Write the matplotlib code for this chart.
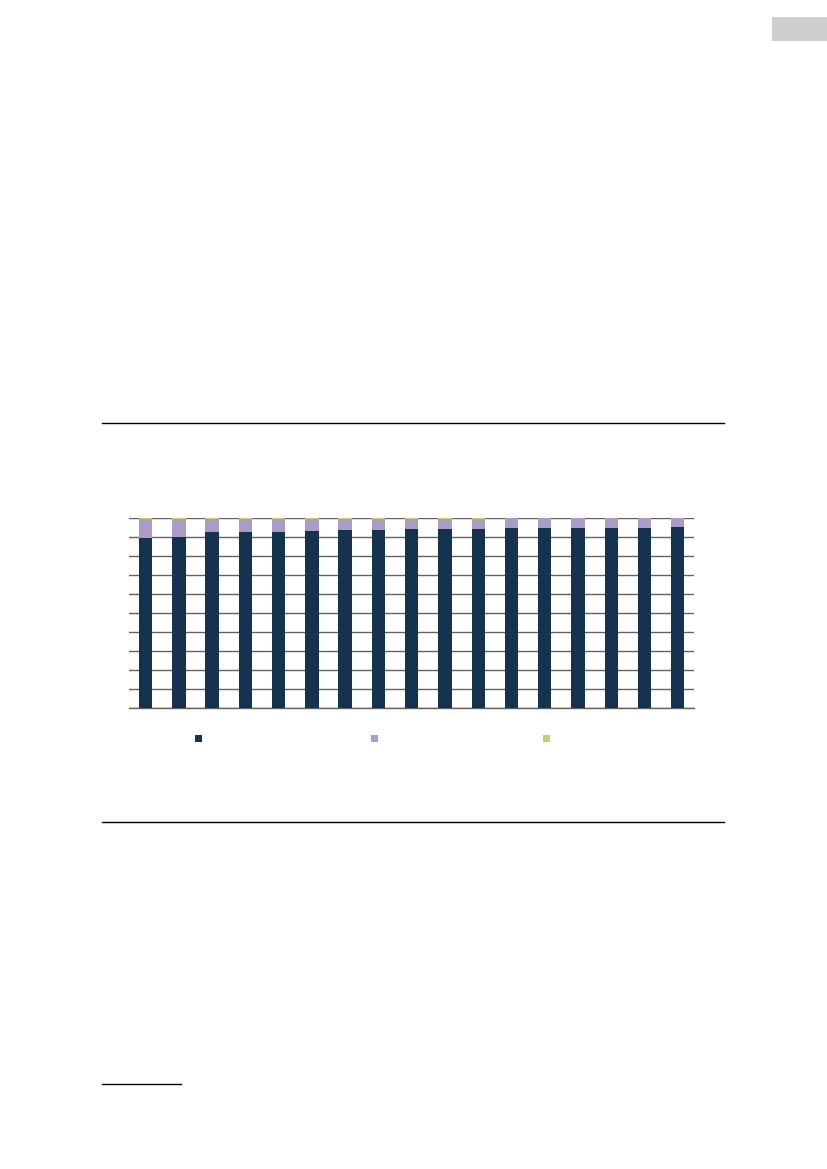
import numpy as np
import matplotlib
matplotlib.use('Agg')
import matplotlib.pyplot as plt
from matplotlib.patches import Rectangle
from matplotlib.lines import Line2D

W, H = 827, 1169

# 数据：三类占比 (%)，17 个年份/类别
categories = list(range(17))
share_main = [89.6, 90.2, 92.8, 92.8, 92.9, 93.3, 93.8, 93.8, 94.2,
              94.4, 94.4, 94.9, 94.9, 94.9, 95.0, 95.0, 95.4]
share_second = [9.8, 9.2, 6.7, 6.7, 6.6, 6.4, 5.9, 5.9, 5.5,
                5.4, 5.4, 5.0, 5.0, 5.0, 4.9, 4.9, 4.5]
share_other = [0.6, 0.6, 0.5, 0.5, 0.5, 0.3, 0.3, 0.3, 0.3,
               0.2, 0.2, 0.1, 0.1, 0.1, 0.1, 0.1, 0.1]

colors = ['#15334f', '#ab9bc7', '#c8cf6a']
grid_color = '#636363'

fig = plt.figure(figsize=(W / 100, H / 100), dpi=100)


def fx(px):
    return px / W


def fy(py):
    return 1 - py / H


# 页面元素：右上角灰色标签、水平分隔线、脚注线
fig.add_artist(Rectangle((fx(771.5), fy(41.3)), fx(827) - fx(771.5), fy(17.3) - fy(41.3),
                         transform=fig.transFigure, facecolor='#cfcfcf', edgecolor='none'))
for y, x0, x1 in [(423.3, 102, 723.5), (821.7, 102, 724), (1084.3, 102, 181)]:
    fig.add_artist(Line2D([fx(x0), fx(x1)], [fy(y), fy(y)], transform=fig.transFigure,
                          color='black', linewidth=1.0))

# 图表区域
ax = fig.add_axes([fx(129), fy(708.3), fx(694.3) - fx(129), fy(518.3) - fy(708.3)])
x = np.arange(len(categories))
bottom = np.zeros(len(categories))
for vals, c in zip([share_main, share_second, share_other], colors):
    ax.bar(x, vals, width=0.4, bottom=bottom, color=c, zorder=3)
    bottom += np.array(vals)

ax.set_xlim(-0.5, len(categories) - 0.5)
ax.set_ylim(0, 100)
ax.set_yticks(np.arange(0, 101, 10))
ax.yaxis.grid(True, color=grid_color, linewidth=1.0, zorder=1)
ax.set_axisbelow(True)
ax.tick_params(left=False, bottom=False, labelleft=False, labelbottom=False)
for s in ['top', 'right', 'left']:
    ax.spines[s].set_visible(False)
ax.spines['bottom'].set_color(grid_color)
ax.spines['bottom'].set_linewidth(1.0)

# 图例色块（无文字）
for cx, c in zip([198.3, 374.7, 546.3], colors):
    fig.add_artist(Rectangle((fx(cx - 3.5), fy(741.5)), fx(7), fy(734.5) - fy(741.5),
                             transform=fig.transFigure, facecolor=c, edgecolor='none'))

fig.savefig('out.png', dpi=100)
